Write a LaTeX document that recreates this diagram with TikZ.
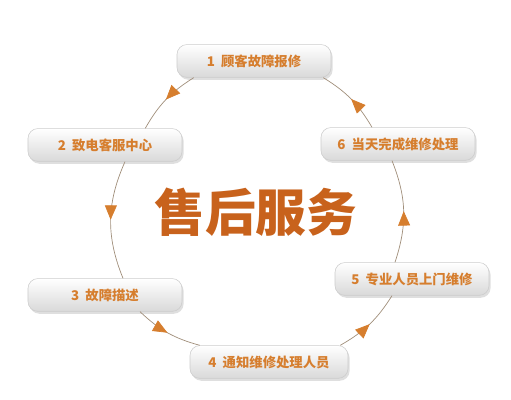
\documentclass[tikz,border=0pt]{standalone}
\usepackage{fontspec}
\usepackage{xcolor}
\usepackage{tikz}
\usetikzlibrary{arrows.meta, calc, shadows, decorations.markings}
\newfontfamily\cjk{Noto Sans CJK SC}
\definecolor{titleorange}{RGB}{200,98,28}
\definecolor{steporange}{RGB}{214,126,46}
\definecolor{arcgray}{RGB}{160,142,122}

\begin{document}
\begin{tikzpicture}[
    stepbox/.style={draw=black!20, rounded corners=7pt, minimum height=0.82cm,
                    minimum width=3.85cm, align=center, top color=white,
                    bottom color=black!15, font=\cjk\bfseries\fontsize{9.5}{11}\selectfont,
                    text=steporange,
                    drop shadow={opacity=0.25, shadow xshift=0.04cm, shadow yshift=-0.06cm}},
    cycle/.style={arcgray, line width=0.5pt, postaction={decorate},
                  decoration={markings, mark=at position 0.5 with
                  {\arrow[steporange]{Triangle[length=0.36cm, width=0.3cm]}}}},
]
\useasboundingbox (0,0) rectangle (12.775,10);

% Centre title
\node[font=\cjk\bfseries\fontsize{36}{38}\selectfont, text=titleorange] (title) at (6.4,4.7) {售后服务};

% Steps
\node[stepbox] (s1) at (6.35,8.475) {1\ \ 顾客故障报修};
\node[stepbox] (s2) at (2.625,6.375) {2\ \ 致电客服中心};
\node[stepbox] (s3) at (2.625,2.625) {3\ \ 故障描述};
\node[stepbox, minimum width=3.95cm] (s4) at (6.725,0.95) {4\ \ 通知维修处理人员};
\node[stepbox] (s5) at (10.3,3.025) {5\ \ 专业人员上门维修};
\node[stepbox] (s6) at (9.95,6.4) {6\ \ 当天完成维修处理};

% Cycle arrows
\draw[cycle] ([xshift=0.425cm]s1.south west) to[bend right=14] ([xshift=-0.925cm]s2.north east);
\draw[cycle] ([xshift=0.5cm]s2.south) to[bend right=23] ([xshift=0.45cm]s3.north);
\draw[cycle] ([xshift=0.875cm]s3.south) to[bend right=14] ([xshift=0.25cm]s4.north west);
\draw[cycle] ([xshift=-0.2cm]s4.north east) to[bend right=14] ([xshift=-0.5cm]s5.south);
\draw[cycle] ([xshift=-0.425cm]s5.north) to[bend right=20] ([xshift=-0.15cm]s6.south);
\draw[cycle] ([xshift=-0.65cm]s6.north) to[bend right=14] ([xshift=-0.2cm]s1.south east);

\end{tikzpicture}
\end{document}
